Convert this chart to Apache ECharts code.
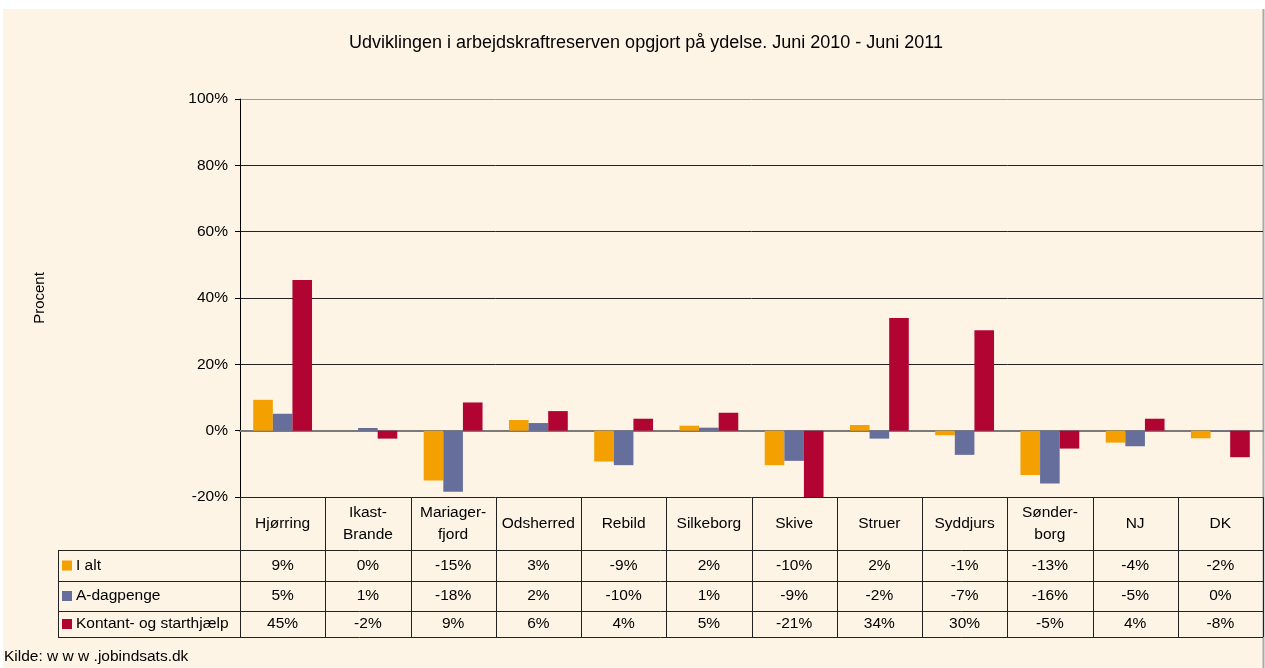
<!DOCTYPE html>
<html>
<head>
<meta charset="utf-8">
<script src="https://cdn.jsdelivr.net/npm/echarts@6/dist/echarts.min.js"></script>
<style>
html,body{margin:0;padding:0;background:#fff;}
#c{width:1265px;height:668px;}
</style>
</head>
<body>
<div id="c"></div>
<script>
const categories = ['Hjørring','Ikast-\nBrande','Mariager-\nfjord','Odsherred','Rebild','Silkeborg','Skive','Struer','Syddjurs','Sønder-\nborg','NJ','DK'];
const seriesNames = ['I alt','A-dagpenge','Kontant- og starthjælp'];
const iAlt       = [9.3, 0.0, -15.0, 3.2, -9.3, 1.5, -10.4, 1.7, -1.4, -13.4, -3.6, -2.3];
const aDagpenge  = [5.1, 0.8, -18.4, 2.3, -10.4, 0.9, -9.1, -2.4, -7.3, -15.9, -4.7, -0.4];
const kontant    = [45.4, -2.4, 8.5, 5.9, 3.6, 5.4, -21.2, 34.0, 30.3, -5.4, 3.6, -8.0];
const yTicks = [-20, 0, 20, 40, 60, 80, 100];
const titleText = 'Udviklingen i arbejdskraftreserven opgjort på ydelse. Juni 2010 - Juni 2011';
const sourceText = 'Kilde: w w w .jobindsats.dk';
const yName = 'Procent';

const colors = ['#F4A000','#666E9C','#B20433'];
const seriesData = [iAlt, aDagpenge, kontant];
const FONT = 'Liberation Sans, Arial, sans-serif';
const BG = '#FDF4E6';

const W = 1265, H = 668;
const gL = 240, gR = 1263, gT = 99, gB = 497;
const rowY = [497, 550, 581, 611, 637];
const tableLeft = 58;
const catW = (gR - gL) / categories.length;

const chart = echarts.init(document.getElementById('c'), null, {renderer:'canvas'});

const graphics = [];
graphics.push({type:'rect', z:-10, silent:true, shape:{x:3,y:9,width:gR-3,height:H-9}, style:{fill:BG}});
graphics.push({type:'line', z:-5, shape:{x1:gR+0.5,y1:9,x2:gR+0.5,y2:H}, style:{stroke:'#a8a8a8',lineWidth:2}});
graphics.push({type:'text', x:40, y:(gT+gB)/2, rotation:Math.PI/2,
  style:{text:yName, font:'15px '+FONT, fill:'#000', align:'center', verticalAlign:'middle'}});
graphics.push({type:'text', x:4, y:657, style:{text:sourceText, font:'15.5px '+FONT, fill:'#000', align:'left', verticalAlign:'middle'}});

const lineStyle = {stroke:'#222', lineWidth:1};
for (let r = 1; r < rowY.length; r++) {
  graphics.push({type:'line', shape:{x1:tableLeft,y1:rowY[r]+0.5,x2:gR,y2:rowY[r]+0.5}, style:lineStyle});
}
for (let i = 0; i <= categories.length; i++) {
  const x = Math.round(gL + i*catW) + 0.5;
  graphics.push({type:'line', shape:{x1:x,y1:gB,x2:x,y2:rowY[4]}, style:lineStyle});
}
graphics.push({type:'line', shape:{x1:tableLeft+0.5,y1:rowY[1],x2:tableLeft+0.5,y2:rowY[4]}, style:lineStyle});

categories.forEach((c, i) => {
  graphics.push({type:'text', x:gL + (i+0.5)*catW, y:(rowY[0]+rowY[1])/2,
    style:{text:c, font:'15.5px '+FONT, fill:'#000', align:'center', verticalAlign:'middle', lineHeight:22}});
});
seriesNames.forEach((name, s) => {
  const yc = (rowY[s+1] + rowY[s+2]) / 2;
  graphics.push({type:'rect', shape:{x:62,y:yc-5,width:10,height:10}, style:{fill:colors[s]}});
  graphics.push({type:'text', x:76, y:yc, style:{text:name, font:'15.5px '+FONT, fill:'#000', align:'left', verticalAlign:'middle'}});
  seriesData[s].forEach((v, i) => {
    const r = Math.round(v);
    graphics.push({type:'text', x:gL + (i+0.5)*catW, y:yc,
      style:{text:(r === 0 ? 0 : r) + '%', font:'15.5px '+FONT, fill:'#000', align:'center', verticalAlign:'middle'}});
  });
});

const option = {
  backgroundColor:'#fff',
  animation:false,
  title:{text:titleText, left:641, top:29, textAlign:'center',
    textStyle:{fontFamily:FONT, fontSize:18, fontWeight:'normal', color:'#000'}},
  grid:{left:gL, right:W-gR, top:gT, bottom:H-gB, containLabel:false},
  xAxis:{type:'category', data:categories,
    axisLine:{onZero:true, lineStyle:{color:'#7a7a7a', width:2}},
    axisTick:{show:false}, axisLabel:{show:false}, splitLine:{show:false}},
  yAxis:{type:'value', min:yTicks[0], max:yTicks[yTicks.length-1], interval:20,
    axisLine:{show:true, lineStyle:{color:'#000', width:1}},
    axisTick:{show:true, length:5, inside:false, lineStyle:{color:'#000'}},
    axisLabel:{formatter:'{value}%', margin:12, color:'#000', fontFamily:FONT, fontSize:15.5},
    splitLine:{show:true, lineStyle:{color:['#222','#7a7a7a','#222','#222','#222','#222','#999'], width:1}}},
  series: seriesNames.map((n, s) => ({
    name:n, type:'bar', data:seriesData[s], barGap:'0%', barCategoryGap:'31%',
    itemStyle:{color:colors[s]}, z:1
  })),
  graphic: graphics
};
chart.setOption(option);
</script>
</body>
</html>
